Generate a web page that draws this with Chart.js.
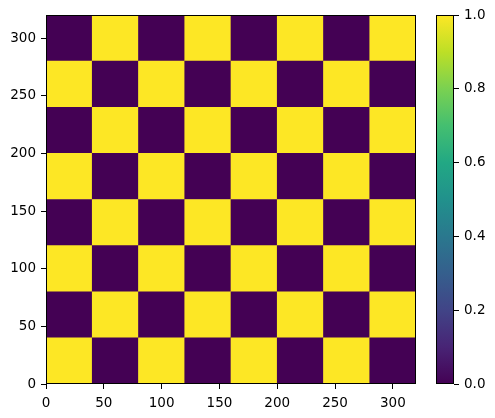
<!DOCTYPE html>
<html><head><meta charset="utf-8">
<script src="https://cdn.jsdelivr.net/npm/chart.js@4"></script>
<style>
html,body{margin:0;padding:0;background:#fff;}
#wrap{position:relative;width:495px;height:418px;}
canvas{position:absolute;left:0;top:0;}
</style></head><body>
<div id="wrap">
<canvas id="main" width="495" height="418"></canvas>
<canvas id="cbar" width="495" height="418"></canvas>
</div>
<script>
// cell centres along x, cell edges along y (data units)
const xCenters = [20, 60, 100, 140, 180, 220, 260, 300];
const yEdges = [0, 40, 80, 120, 160, 200, 240, 280, 320];
// checkerboard values, row 0 = bottom row
const row0 = [1, 0, 1, 0, 1, 0, 1, 0];
const row1 = [0, 1, 0, 1, 0, 1, 0, 1];
const row2 = [1, 0, 1, 0, 1, 0, 1, 0];
const row3 = [0, 1, 0, 1, 0, 1, 0, 1];
const row4 = [1, 0, 1, 0, 1, 0, 1, 0];
const row5 = [0, 1, 0, 1, 0, 1, 0, 1];
const row6 = [1, 0, 1, 0, 1, 0, 1, 0];
const row7 = [0, 1, 0, 1, 0, 1, 0, 1];
const rows = [row0, row1, row2, row3, row4, row5, row6, row7];
const axisTicks = [0, 50, 100, 150, 200, 250, 300];
const cbarTicks = [0.0, 0.2, 0.4, 0.6, 0.8, 1.0];

const viridisStops = [
  [0.0,'#440154'],[0.1,'#482475'],[0.2,'#414487'],[0.3,'#355f8d'],[0.4,'#2a788e'],
  [0.5,'#21918c'],[0.6,'#22a884'],[0.7,'#44bf70'],[0.8,'#7ad151'],[0.9,'#bddf26'],[1.0,'#fde725']
];
function viridis(v){ return v >= 0.5 ? '#fde725' : '#440154'; }

const FONT = {family: 'DejaVu Sans', size: 13.5};

const frame = {
  id: 'frame',
  afterDatasetsDraw(chart){
    const a = chart.chartArea, ctx = chart.ctx;
    ctx.save(); ctx.strokeStyle = '#000'; ctx.lineWidth = 1;
    ctx.strokeRect(Math.round(a.left)+0.5, Math.round(a.top)+0.5, Math.round(a.right-a.left)-1, Math.round(a.bottom-a.top)-1);
    ctx.restore();
  }
};

const datasets = rows.map((vals, r) => ({
  data: vals.map((v, c) => ({x: xCenters[c], y: [yEdges[r], yEdges[r+1]]})),
  backgroundColor: vals.map(viridis),
  borderWidth: 0,
  grouped: false,
  barPercentage: 1,
  categoryPercentage: 1
}));

new Chart(document.getElementById('main'), {
  type: 'bar',
  data: {datasets},
  options: {
    responsive: false, animation: false,
    layout: {padding: {top: 15, right: 79, left: 0, bottom: 0}},
    plugins: {legend: {display: false}, tooltip: {enabled: false}},
    scales: {
      x: {
        type: 'linear', min: 0, max: 320, offset: false,
        afterFit(s){ s.height = 34; },
        afterBuildTicks(s){ s.ticks = axisTicks.map(v => ({value: v})); },
        grid: {drawOnChartArea: false, offset: false, tickLength: 5, tickColor: '#000', tickWidth: 1},
        border: {display: false},
        ticks: {color: '#000', font: FONT, padding: 6, maxRotation: 0, callback: v => String(v)}
      },
      y: {
        type: 'linear', min: 0, max: 320,
        afterFit(s){ s.width = 46; },
        afterBuildTicks(s){ s.ticks = axisTicks.map(v => ({value: v})); },
        grid: {drawOnChartArea: false, tickLength: 5, tickColor: '#000', tickWidth: 1},
        border: {display: false},
        ticks: {color: '#000', font: FONT, padding: 5, callback: v => String(v)}
      }
    }
  },
  plugins: [frame]
});

new Chart(document.getElementById('cbar'), {
  type: 'bar',
  data: {labels: [''], datasets: [{
    data: [[0, 1]],
    borderWidth: 0,
    barPercentage: 1, categoryPercentage: 1,
    backgroundColor(ctx){
      const a = ctx.chart.chartArea;
      if (!a) return '#440154';
      const g = ctx.chart.ctx.createLinearGradient(0, a.bottom, 0, a.top);
      viridisStops.forEach(s => g.addColorStop(s[0], s[1]));
      return g;
    }
  }]},
  options: {
    responsive: false, animation: false,
    layout: {padding: {top: 15, left: 436, right: 0, bottom: 34}},
    plugins: {legend: {display: false}, tooltip: {enabled: false}},
    scales: {
      x: {display: false, offset: true},
      y: {
        position: 'right', min: 0, max: 1,
        afterFit(s){ s.width = 41; },
        afterBuildTicks(s){ s.ticks = cbarTicks.map(v => ({value: v})); },
        grid: {drawOnChartArea: false, tickLength: 5, tickColor: '#000', tickWidth: 1},
        border: {display: false},
        ticks: {color: '#000', font: FONT, padding: 5, callback: v => Number(v).toFixed(1)}
      }
    }
  },
  plugins: [frame]
});
</script>
</body></html>
